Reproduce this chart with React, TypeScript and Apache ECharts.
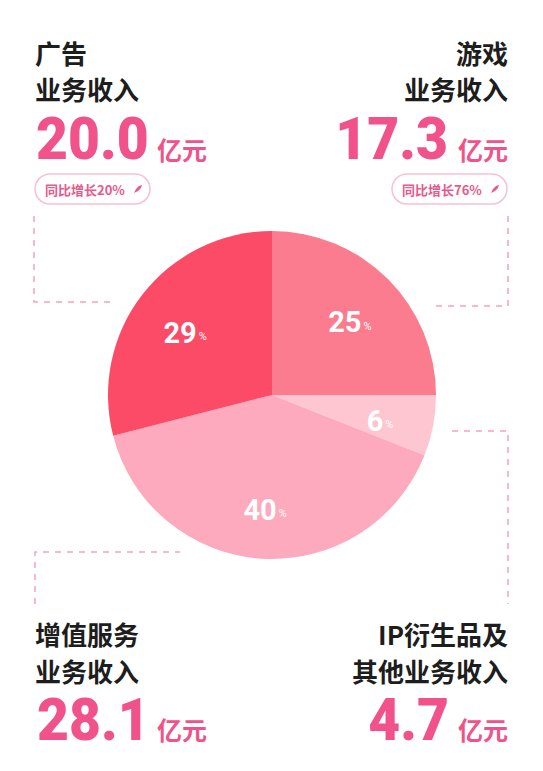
import { useEffect, useRef } from 'react';
import * as echarts from 'echarts';

// revenue share per business line (percent, as printed on the slices)
const categories = ['游戏', 'IP衍生品及其他', '增值服务', '广告'];
const shareValues = [25, 6, 40, 29];
const sliceColors = ['#fc7c8f', '#fec6d0', '#fdaabe', '#fb4b66'];

// revenue blocks round the pie (亿元)
const revenueValues = ['20.0', '17.3', '28.1', '4.7'];
const growthLabels = ['同比增长20%', '同比增长76%'];

const PINK = '#f1528a';
const DARK = '#1d1d1d';
const CJK = '"Noto Sans CJK SC", "Noto Sans", sans-serif';
const NUM = 'Roboto, "Noto Sans", sans-serif';
const DASH = '#f5a3bf';

const title = (text: string, x: number, y: number, align: 'left' | 'right') => ({
    type: 'text',
    x,
    y,
    style: { text, fontSize: 26, fontWeight: 'bold', fontFamily: CJK, fill: DARK, align, verticalAlign: 'middle' }
});

const bigNumber = (text: string, x: number, y: number, align: 'left' | 'right') => ({
    type: 'text',
    x,
    y,
    scaleX: 0.92,
    style: { text, fontSize: 60, fontWeight: 900, fontFamily: NUM, fill: PINK, align, verticalAlign: 'middle' }
});

const unit = (x: number, y: number, align: 'left' | 'right') => ({
    type: 'text',
    x,
    y,
    style: { text: '亿元', fontSize: 25, fontWeight: 'bold', fontFamily: CJK, fill: PINK, align, verticalAlign: 'middle' }
});

const badge = (text: string, x: number, y: number) => ({
    type: 'group',
    x,
    y,
    children: [
        {
            type: 'rect',
            shape: { x: 0, y: 0, width: 115, height: 30, r: 15 },
            style: { fill: '#fff', stroke: '#f8c1d2', lineWidth: 1.5 }
        },
        {
            type: 'text',
            x: 10,
            y: 15,
            style: { text, fontSize: 13, fontWeight: 'bold', fontFamily: CJK, fill: '#e8588a', align: 'left', verticalAlign: 'middle' }
        },
        {
            type: 'polygon',
            x: 103,
            y: 15,
            shape: { points: [[-4, 4], [-2, 0], [1, -3], [4, -4], [3, -1], [0, 2]] },
            style: { fill: '#e8588a' }
        }
    ]
});

const dashed = (points: number[][]) => ({
    type: 'polyline',
    shape: { points },
    style: { stroke: DASH, lineWidth: 1.5, lineDash: [6, 6], fill: 'none' }
});

export default function App() {
    const chartRef = useRef<HTMLDivElement>(null);

    useEffect(() => {
        if (!chartRef.current) return;
        const chart = echarts.init(chartRef.current, null, { renderer: 'svg' });

        const pieData = categories.map((name, i) => ({
            name,
            value: shareValues[i],
            itemStyle: { color: sliceColors[i] }
        }));

        chart.setOption({
            animation: false,
            backgroundColor: '#fff',
            series: [
                {
                    type: 'pie',
                    center: [272, 395],
                    radius: [0, 164],
                    startAngle: 90,
                    clockwise: true,
                    silent: true,
                    label: { show: false },
                    labelLine: { show: false },
                    data: pieData
                },
                {
                    // transparent ring only used to place the percent labels
                    type: 'pie',
                    center: [272, 400],
                    radius: [62, 152],
                    startAngle: 90,
                    clockwise: true,
                    silent: true,
                    itemStyle: { color: 'rgba(0,0,0,0)' },
                    labelLine: { show: false },
                    label: {
                        show: true,
                        position: 'inside',
                        formatter: (p: any) => `{a|${p.value}}{b|%}`,
                        rich: {
                            a: { fontSize: 29, fontWeight: 'bold', fontFamily: NUM, color: '#fff' },
                            b: { fontSize: 11, fontFamily: NUM, color: '#fff', padding: [8, 0, 0, 2] }
                        }
                    },
                    data: categories.map((name, i) => ({ name, value: shareValues[i] }))
                }
            ],
            graphic: [
                dashed([[34, 216], [34, 302], [116, 302]]),
                dashed([[508, 216], [508, 306], [436, 306]]),
                dashed([[35, 604], [35, 552], [180, 552]]),
                dashed([[452, 431], [508, 431], [508, 604]]),

                title('广告', 35, 52, 'left'),
                title('业务收入', 35, 88, 'left'),
                bigNumber(revenueValues[0], 36, 139, 'left'),
                unit(157, 149, 'left'),
                badge(growthLabels[0], 35, 174),

                title('游戏', 508, 52, 'right'),
                title('业务收入', 508, 88, 'right'),
                bigNumber(revenueValues[1], 448, 139, 'right'),
                unit(508, 149, 'right'),
                badge(growthLabels[1], 392, 174),

                title('增值服务', 35, 633, 'left'),
                title('业务收入', 35, 670, 'left'),
                bigNumber(revenueValues[2], 37, 720, 'left'),
                unit(157, 729, 'left'),

                title('IP衍生品及', 508, 633, 'right'),
                title('其他业务收入', 508, 670, 'right'),
                bigNumber(revenueValues[3], 449, 720, 'right'),
                unit(508, 729, 'right')
            ]
        });

        return () => chart.dispose();
    }, []);

    return (
        <div
            ref={chartRef}
            style={{ position: 'absolute', left: 0, top: 0, width: 543, height: 771, background: '#fff' }}
        />
    );
}
